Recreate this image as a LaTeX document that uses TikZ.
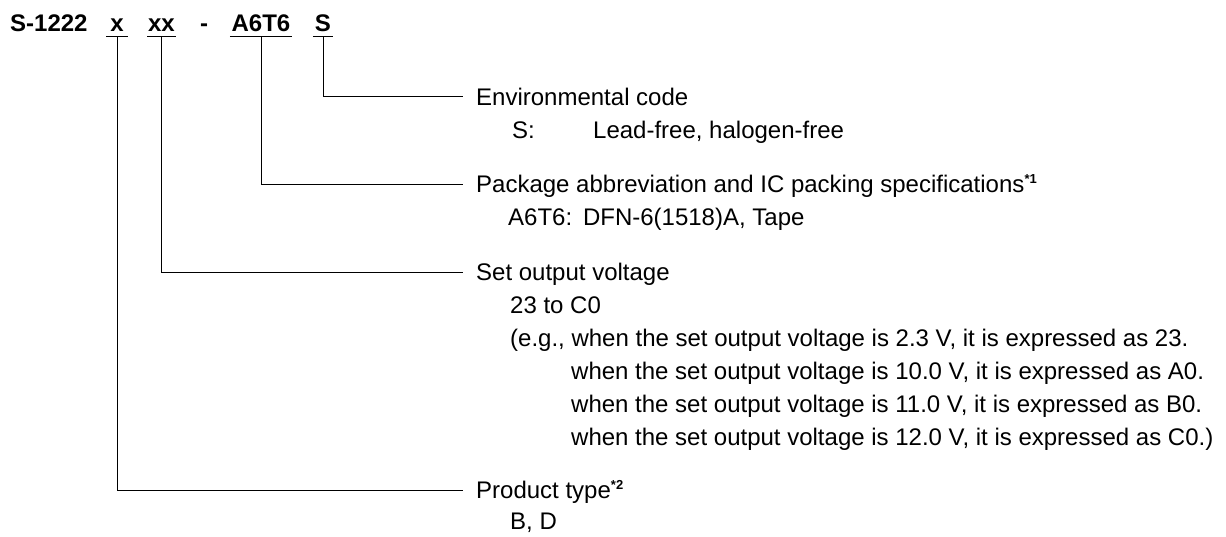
\documentclass[tikz,border=0pt]{standalone}
\usepackage{fontspec}
\setmainfont{Liberation Sans}
\newcommand\notemark[1]{\raisebox{9pt}{\fontsize{13}{13}\selectfont\bfseries *#1}}
\begin{document}
\begin{tikzpicture}[x=1pt,y=-1pt,
    code/.style={font=\fontsize{24}{28}\selectfont\bfseries,anchor=base,inner sep=0pt,text depth=5pt},
    head/.style={font=\fontsize{24}{33}\selectfont,anchor=west,inner xsep=13pt,inner ysep=0pt,text height=17.2pt,text depth=0pt},
    desc/.style={font=\fontsize{24}{33}\selectfont,anchor=west,inner sep=0pt,text height=17.2pt,text depth=0pt}]
  \useasboundingbox (0,0) rectangle (1226,536);
  % part number
  \node[code,anchor=base west] (pn) at (10,31) {S-1222};
  \node[code,minimum width=21pt] (cx) at (117,31) {x};
  \node[code,minimum width=28pt] (cxx) at (161.5,31) {xx};
  \node[code] (dash) at (204,31) {-};
  \node[code,minimum width=62pt] (cpkg) at (261,31) {A6T6};
  \node[code,minimum width=20pt] (cs) at (323,31) {S};
  \foreach \n in {cx,cxx,cpkg,cs}
     \draw (\n.south west) -- (\n.south east);
  % headings
  \node[head] (env) at (463,96.5) {Environmental code};
  \node[head] (pkg) at (463,184) {Package abbreviation and IC packing specifications\notemark{1}};
  \node[head] (volt) at (463,272) {Set output voltage};
  \node[head] (prod) at (463,490) {Product type\notemark{2}};
  \draw (cs.south) |- (env.west);
  \draw (cpkg.south) |- (pkg.west);
  \draw (cxx.south) |- (volt.west);
  \draw (cx.south) |- (prod.west);
  % details
  \node[desc] (envs) at (512,129.5) {S:};
  \node[desc] (envtxt) at (593,129.5) {Lead-free, halogen-free};
  \node[desc] (pkgtxt) at (508,217) {A6T6:\hspace{0.45em}DFN-6(1518)A, Tape};
  \node[desc] (range) at (510,305) {23 to C0};
  \node[desc] (eg) at (510,338) {(e.g., when the set output voltage is 2.3 V, it is expressed as 23.};
  \foreach \v/\c [count=\i] in {10.0/A0., 11.0/B0., 12.0/C0.)}
     \node[desc] (when\i) at (571,{338+33*\i}) {when the set output voltage is \v\ V, it is expressed as \c};
  \node[desc] (types) at (510,521) {B, D};
\end{tikzpicture}
\end{document}
